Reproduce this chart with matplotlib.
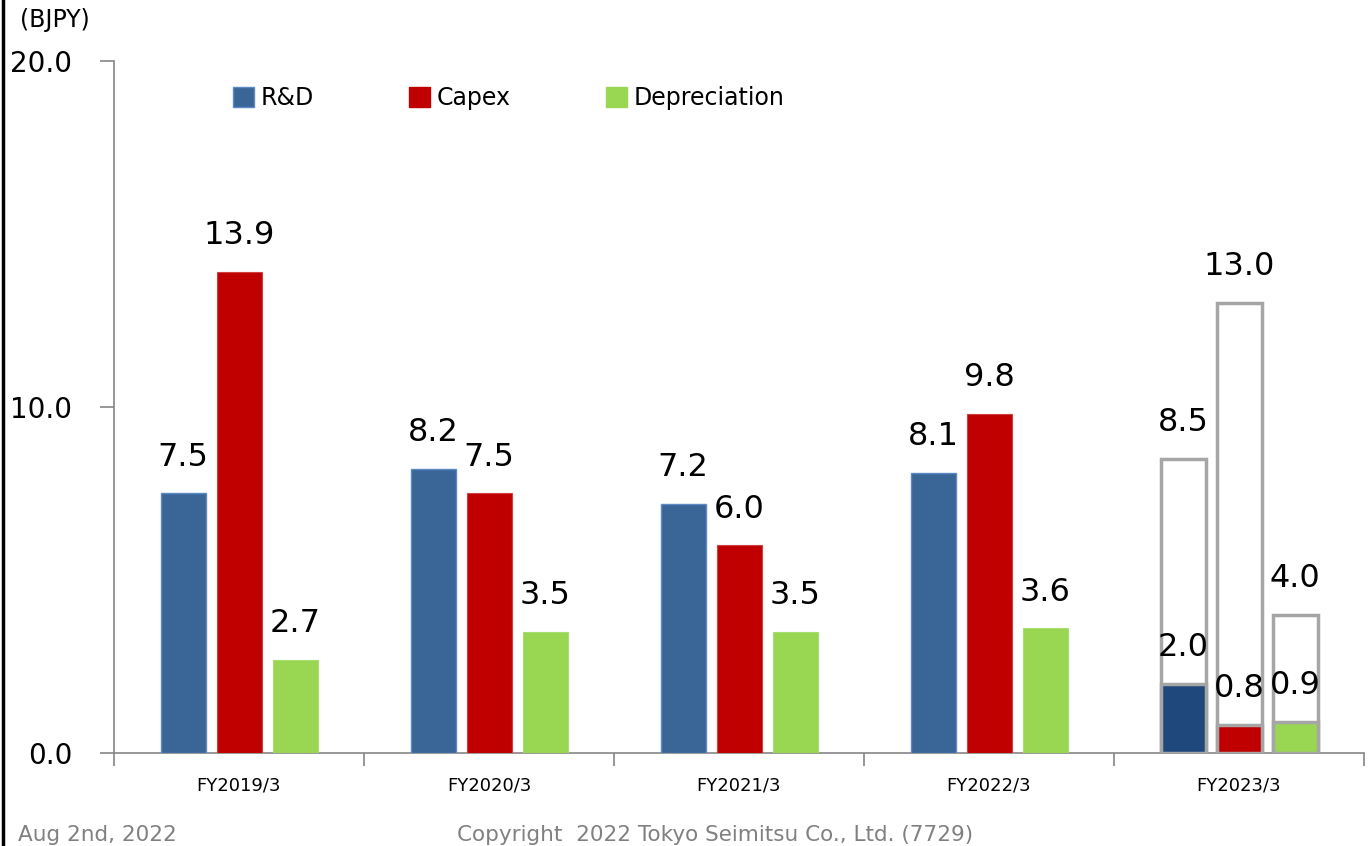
import matplotlib.pyplot as plt
import numpy as np
from matplotlib.lines import Line2D
from matplotlib.patches import Patch

# data
categories = ['FY2019/3', 'FY2020/3', 'FY2021/3', 'FY2022/3', 'FY2023/3']
rnd = [7.5, 8.2, 7.2, 8.1, 2.0]
capex = [13.9, 7.5, 6.0, 9.8, 0.8]
depreciation = [2.7, 3.5, 3.5, 3.6, 0.9]
# FY2023/3 full-year plan (outlined bars)
plan_rnd = 8.5
plan_capex = 13.0
plan_depr = 4.0

c_rnd = '#3A6597'
c_rnd_23 = '#1F497D'
c_capex = '#C00000'
c_depr = '#99D652'
c_gray = '#A6A6A6'

fig = plt.figure(figsize=(13.72, 8.46), dpi=100)
ax = fig.add_axes([114 / 1372, 1 - 753 / 846, 1250 / 1372, (753 - 61) / 846])

x = np.arange(len(categories))
w = 0.18
off = 0.224
lbl_size = 23
lbl_off = 15

# plan outlines for the last year, drawn behind the actuals
plans = [plan_rnd, plan_capex, plan_depr]
for i, v in enumerate(plans):
    ax.bar(x[-1] + (i - 1) * off, v, w, facecolor='white', edgecolor=c_gray,
           linewidth=2.5, zorder=2)
    ax.annotate(f'{v:.1f}', (x[-1] + (i - 1) * off, v), xytext=(0, lbl_off),
                textcoords='offset points', ha='center', va='bottom',
                fontsize=lbl_size, zorder=5)

rnd_colors = [c_rnd] * (len(x) - 1) + [c_rnd_23]
b1 = ax.bar(x - off, rnd, w, color=rnd_colors, edgecolor='#5B8AC6', linewidth=1, zorder=3)
b2 = ax.bar(x, capex, w, color=c_capex, edgecolor='#D04040', linewidth=0.8, zorder=3)
b3 = ax.bar(x + off, depreciation, w, color=c_depr, edgecolor='#A8DD70', linewidth=0.8, zorder=3)
for b in (b1, b2, b3):
    b[-1].set_edgecolor(c_gray)
    b[-1].set_linewidth(2.5)

for xs, vals in ((x - off, rnd), (x, capex), (x + off, depreciation)):
    for xi, v in zip(xs, vals):
        ax.annotate(f'{v:.1f}', (xi, v), xytext=(0, lbl_off),
                    textcoords='offset points', ha='center', va='bottom',
                    fontsize=lbl_size, zorder=5)

ax.set_xlim(-0.5, len(categories) - 0.5)
ax.set_ylim(0, 20)
ax.set_yticks([0, 10, 20])
ax.set_yticklabels(['0.0', '10.0', '20.0'], fontsize=20)
ax.set_xticks(x)
ax.set_xticklabels(categories, fontsize=13)
ax.set_xticks(np.arange(len(categories) + 1) - 0.5, minor=True)
ax.tick_params(axis='x', which='major', length=0, pad=17)
ax.tick_params(axis='x', which='minor', length=9, color='#868686', width=1.2)
ax.tick_params(axis='y', length=10, color='#868686', width=1.2, pad=20)
for s in ('top', 'right'):
    ax.spines[s].set_visible(False)
for s in ('left', 'bottom'):
    ax.spines[s].set_color('#868686')
    ax.spines[s].set_linewidth(1.2)

handles = [Patch(facecolor=c_rnd, edgecolor='#5B8AC6'),
           Patch(facecolor=c_capex, edgecolor=c_capex),
           Patch(facecolor=c_depr, edgecolor=c_depr)]
ax.legend(handles, ['R&D', 'Capex', 'Depreciation'], loc='upper left',
          bbox_to_anchor=(0.078, 0.994), ncol=3, frameon=False, fontsize=17,
          handlelength=0.9, handleheight=0.9, handletextpad=0.3, columnspacing=4.0)

fig.text(20 / 1372, 1 - 20 / 846, '(BJPY)', fontsize=17, va='center', ha='left')
fig.text(18 / 1372, 1 - 835 / 846, 'Aug 2nd, 2022', fontsize=15.5, color='#808080', va='center')
fig.text(457 / 1372, 1 - 835 / 846, 'Copyright  2022 Tokyo Seimitsu Co., Ltd. (7729)',
         fontsize=15.5, color='#808080', va='center')
fig.add_artist(Line2D([3 / 1372, 3 / 1372], [0, 1], color='black', linewidth=2.5,
                      transform=fig.transFigure))

fig.savefig('out.png', dpi=100)
